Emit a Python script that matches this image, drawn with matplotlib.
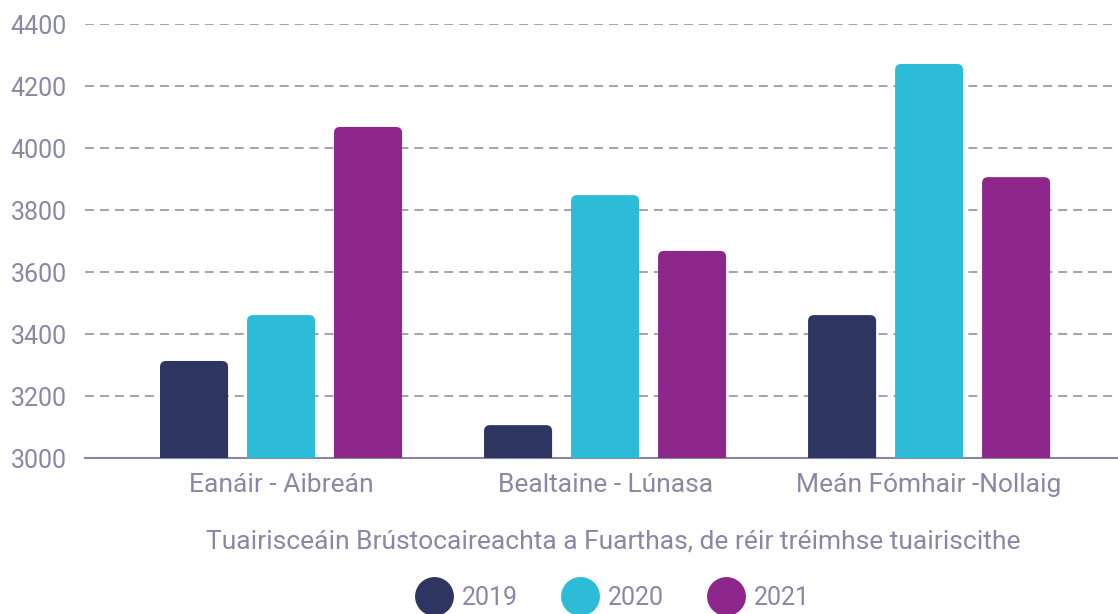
import matplotlib
matplotlib.use("Agg")
import matplotlib.pyplot as plt
import numpy as np
from matplotlib.patches import FancyBboxPatch
from matplotlib.lines import Line2D

# data
categories = ["Eanáir - Aibreán", "Bealtaine - Lúnasa", "Meán Fómhair -Nollaig"]
years = ["2019", "2020", "2021"]
values_2019 = [3313, 3106, 3461]
values_2020 = [3461, 3848, 4271]
values_2021 = [4068, 3668, 3906]
yticks = [3000, 3200, 3400, 3600, 3800, 4000, 4200, 4400]

COLORS = ["#2e3560", "#2cbcd8", "#8d278c"]
TEXT = "#8a87a6"
GRID = "#8a87a6"
FS = 18
FS_X = 19

plt.rcParams["font.family"] = ["Roboto", "DejaVu Sans"]

fig = plt.figure(figsize=(11.18, 6.14), dpi=100)
ax = fig.add_axes([85 / 1118, 1 - 458 / 614, 1 - 85 / 1118, (458 - 24) / 614])

ax.set_ylim(3000, 4400)
ax.set_xlim(-0.605, 2.583)

width = 0.21
offset = 0.2685
x = np.arange(len(categories))
series = [values_2019, values_2020, values_2021]

# y units per px vs x units per px, for round corners
px_x = 3.188 / 1033
px_y = 1400 / 434
radius = 6 * px_x
aspect = px_y / px_x

for i, vals in enumerate(series):
    for xi, v in zip(x + (i - 1) * offset, vals):
        left = xi - width / 2
        base = 2960
        p = FancyBboxPatch((left + radius, base + radius * aspect),
                           width - 2 * radius, v - base - 2 * radius * aspect,
                           boxstyle=f"round,pad={radius},rounding_size={radius}",
                           mutation_aspect=aspect,
                           facecolor=COLORS[i], edgecolor="none", zorder=3)
        ax.add_patch(p)

ax.set_yticks(yticks)
ax.set_yticklabels([str(t) for t in yticks])
ax.set_xticks(x)
ax.set_xticklabels(categories)
ax.tick_params(axis="both", length=0, colors=TEXT)
ax.tick_params(axis="y", pad=13, labelsize=FS)
ax.tick_params(axis="x", pad=11, labelsize=FS_X)

for t in yticks[1:]:
    ax.axhline(t, color=GRID, lw=1.1, dashes=(5.9, 3.9), zorder=1)

for s in ["top", "right", "left"]:
    ax.spines[s].set_visible(False)
ax.spines["bottom"].set_color(GRID)
ax.spines["bottom"].set_linewidth(1.5)

fig.text(613 / 1118, 1 - 541 / 614, "Tuairisceáin Brústocaireachta a Fuarthas, de réir tréimhse tuairiscithe",
         ha="center", va="center", fontsize=FS_X, color=TEXT)

handles = [Line2D([], [], marker="o", ls="none", markersize=28, markerfacecolor=c,
                  markeredgecolor="none") for c in COLORS]
fig.legend(handles, years, loc="center", bbox_to_anchor=(612 / 1118, 1 - 598 / 614),
           ncol=3, frameon=False, fontsize=FS, labelcolor=TEXT,
           handletextpad=0.3, columnspacing=1.7, borderaxespad=0, handlelength=1.6)

fig.savefig("out.png", dpi=100)
